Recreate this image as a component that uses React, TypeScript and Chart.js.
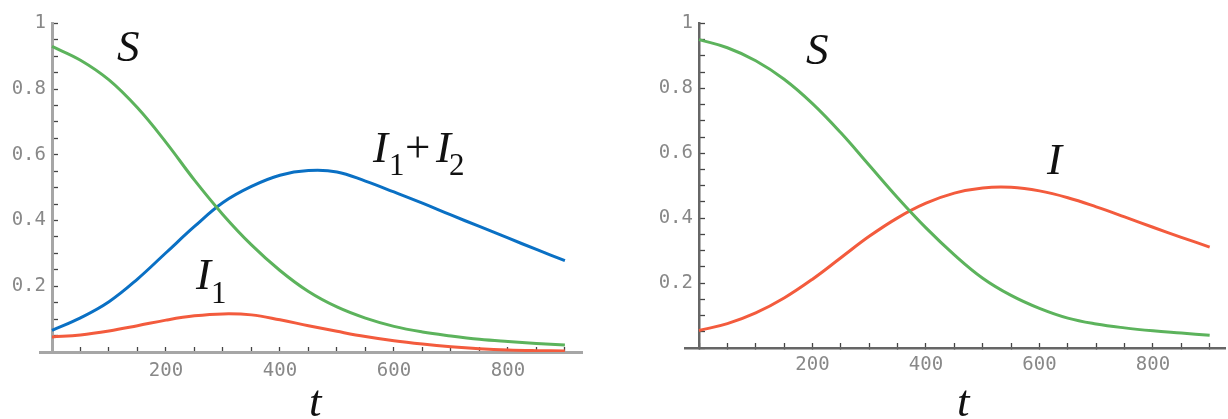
import React, { useEffect, useRef } from "react";
import { Chart, registerables } from "chart.js";

Chart.register(...registerables);

// ---- data ----
const tValues = [0, 50, 100, 150, 200, 250, 300, 350, 400, 450, 500, 550, 600, 650, 700, 750, 800, 850, 900];

// left panel
const leftS = [0.93, 0.888, 0.828, 0.743, 0.638, 0.523, 0.418, 0.326, 0.248, 0.184, 0.137, 0.103, 0.078, 0.061, 0.049, 0.039, 0.032, 0.026, 0.021];
const leftI1plusI2 = [0.066, 0.104, 0.153, 0.222, 0.302, 0.382, 0.455, 0.504, 0.538, 0.552, 0.548, 0.52, 0.487, 0.453, 0.417, 0.382, 0.347, 0.312, 0.278];
const leftI1 = [0.046, 0.052, 0.064, 0.08, 0.097, 0.11, 0.116, 0.113, 0.098, 0.08, 0.063, 0.047, 0.034, 0.024, 0.016, 0.01, 0.006, 0.004, 0.003];

// right panel
const rightS = [0.95, 0.925, 0.885, 0.828, 0.753, 0.663, 0.563, 0.463, 0.37, 0.287, 0.215, 0.162, 0.122, 0.092, 0.074, 0.062, 0.053, 0.046, 0.039];
const rightI = [0.054, 0.075, 0.108, 0.154, 0.212, 0.278, 0.344, 0.401, 0.446, 0.477, 0.493, 0.495, 0.484, 0.463, 0.435, 0.404, 0.372, 0.341, 0.311];

// ticks
const yMajorTicks = [0.2, 0.4, 0.6, 0.8, 1];
const yTickLabels = ["0.2", "0.4", "0.6", "0.8", "1"];
const xMajorTicks = [200, 400, 600, 800];
const xTickLabels = ["200", "400", "600", "800"];
const yMinorStep = 0.05;
const xMinorStep = 50;

const GREEN = "#5cb35c";
const BLUE = "#0a70c4";
const RED = "#f35b3d";
const MONO = "'DejaVu Sans Mono', 'Liberation Mono', monospace";
const SERIF = "'Liberation Serif', 'DejaVu Serif', serif";

type Series = { values: number[]; color: string };

type PanelProps = {
  left: number;
  width: number;
  axisX: number; // local pixel of the y axis (chart-area left)
  axisExt: number; // how far the x axis runs left of the y axis
  top: number;
  bottom: number; // local pixel of the x axis
  padRight: number;
  xMax: number;
  axisColor: string;
  axisWidth: number;
  tickColor: string;
  xLabelPad: number;
  yLabelPad: number;
  series: Series[];
};

function labelFor(v: number, majors: number[], labels: string[]) {
  const i = majors.findIndex((m) => Math.abs(m - v) < 1e-6);
  return i >= 0 ? labels[i] : "";
}

function Panel(p: PanelProps) {
  const ref = useRef<HTMLCanvasElement | null>(null);
  useEffect(() => {
    if (!ref.current) return;
    const extendAxis = {
      id: "extendAxis",
      afterLayout(chart: any) {
        const xs = chart.scales.x;
        if (xs) xs.left = xs.left - p.axisExt;
      },
    };
    const chart = new Chart(ref.current, {
      type: "line",
      data: {
        datasets: p.series.map((s) => ({
          data: tValues.map((t, i) => ({ x: t, y: s.values[i] })),
          borderColor: s.color,
          borderWidth: 3,
          pointRadius: 0,
          fill: false,
          tension: 0.4,
        })),
      },
      options: {
        animation: false,
        responsive: false,
        devicePixelRatio: 1,
        layout: { padding: { left: 0, right: p.padRight, top: p.top, bottom: 0 } },
        plugins: { legend: { display: false }, tooltip: { enabled: false } },
        scales: {
          x: {
            type: "linear",
            min: 0,
            max: p.xMax,
            position: "bottom",
            afterFit: (s: any) => {
              s.height = 419 - p.bottom;
            },
            grid: {
              drawOnChartArea: false,
              drawTicks: true,
              tickLength: -5,
              tickColor: p.tickColor,
              tickWidth: 1.3,
            },
            border: { display: true, color: p.axisColor, width: p.axisWidth },
            ticks: {
              stepSize: xMinorStep,
              includeBounds: false,
              autoSkip: false,
              maxRotation: 0,
              padding: p.xLabelPad,
              color: "#888",
              font: { family: MONO, size: 19 },
              callback: (v: any) => labelFor(Number(v), xMajorTicks, xTickLabels),
            },
          },
          y: {
            type: "linear",
            min: 0,
            max: 1,
            position: "left",
            afterFit: (s: any) => {
              s.width = p.axisX;
            },
            grid: {
              drawOnChartArea: false,
              drawTicks: true,
              tickLength: -6,
              tickColor: p.tickColor,
              tickWidth: 1.3,
            },
            border: { display: true, color: p.axisColor, width: p.axisWidth },
            ticks: {
              stepSize: yMinorStep,
              autoSkip: false,
              padding: p.yLabelPad,
              color: "#888",
              font: { family: MONO, size: 19 },
              callback: (v: any) => labelFor(Number(v), yMajorTicks, yTickLabels),
            },
          },
        },
      },
      plugins: [extendAxis],
    } as any);
    return () => chart.destroy();
  }, []);
  return (
    <canvas
      ref={ref}
      width={p.width}
      height={419}
      style={{ position: "absolute", left: p.left, top: 0, width: p.width, height: 419 }}
    />
  );
}

type Ann = { text: string; x: number; base: number; size: number; italic?: boolean };

const annotations: Ann[] = [
  { text: "S", x: 117, base: 62, size: 45, italic: true },
  { text: "I", x: 196, base: 290, size: 45, italic: true },
  { text: "1", x: 211, base: 303, size: 31 },
  { text: "I", x: 373, base: 163, size: 45, italic: true },
  { text: "1", x: 389, base: 175, size: 31 },
  { text: "+", x: 405, base: 163, size: 45 },
  { text: "I", x: 436, base: 163, size: 45, italic: true },
  { text: "2", x: 449, base: 175, size: 31 },
  { text: "t", x: 309, base: 417, size: 45, italic: true },
  { text: "S", x: 806, base: 65, size: 45, italic: true },
  { text: "I", x: 1047, base: 175, size: 45, italic: true },
  { text: "t", x: 957, base: 417, size: 45, italic: true },
];

export default function App() {
  return (
    <div style={{ position: "absolute", left: 0, top: 0, width: 1228, height: 419, background: "#fff", overflow: "hidden" }}>
      <Panel
        left={0}
        width={614}
        axisX={52}
        axisExt={12}
        top={18}
        bottom={352}
        padRight={32}
        xMax={930}
        axisColor="#a6a6a6"
        axisWidth={3}
        tickColor="#444"
        xLabelPad={13}
        yLabelPad={12}
        series={[
          { values: leftS, color: GREEN },
          { values: leftI1plusI2, color: BLUE },
          { values: leftI1, color: RED },
        ]}
      />
      <Panel
        left={614}
        width={614}
        axisX={85}
        axisExt={14}
        top={14}
        bottom={348}
        padRight={3}
        xMax={927}
        axisColor="#666"
        axisWidth={2.5}
        tickColor="#444"
        xLabelPad={11}
        yLabelPad={12}
        series={[
          { values: rightS, color: GREEN },
          { values: rightI, color: RED },
        ]}
      />
      {annotations.map((a, i) => (
        <span
          key={i}
          style={{
            position: "absolute",
            left: a.x,
            top: a.base - 0.8375 * a.size,
            fontFamily: SERIF,
            fontSize: a.size,
            lineHeight: `${a.size}px`,
            fontStyle: a.italic ? "italic" : "normal",
            color: "#111",
            whiteSpace: "pre",
          }}
        >
          {a.text}
        </span>
      ))}
    </div>
  );
}
